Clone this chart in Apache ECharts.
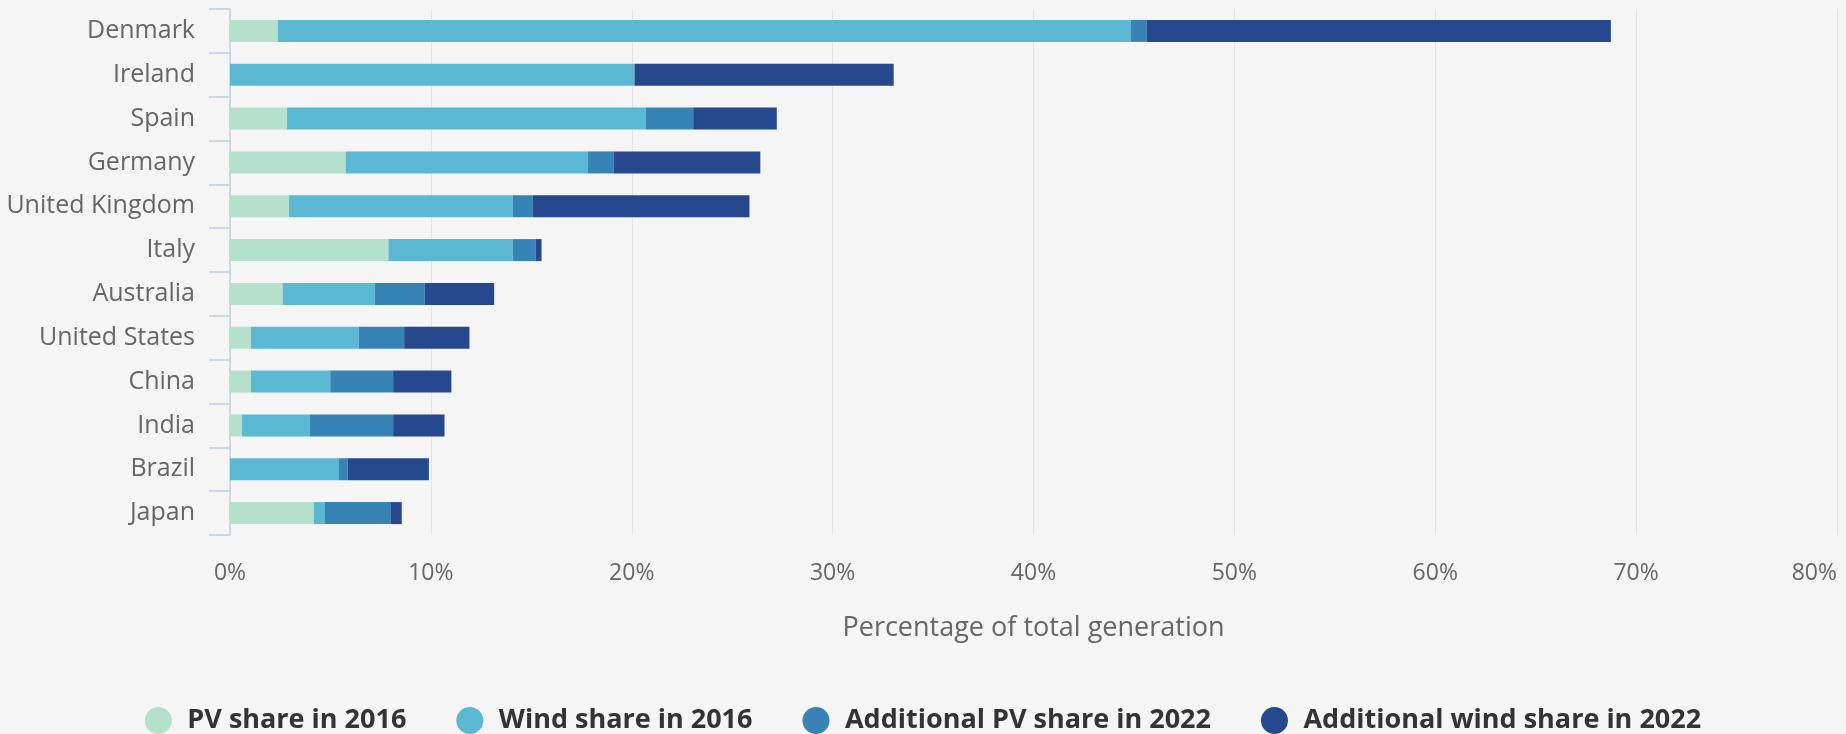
<!DOCTYPE html>
<html>
<head>
<meta charset="utf-8">
<script src="https://cdn.jsdelivr.net/npm/echarts@6/dist/echarts.min.js"></script>
<style>
    html, body { margin: 0; padding: 0; background: #f5f5f5; }
    #chart { width: 1846px; height: 734px; }
</style>
</head>
<body>
<div id="chart"></div>
<script>
// countries, top to bottom
const countries = ["Denmark", "Ireland", "Spain", "Germany", "United Kingdom", "Italy",
    "Australia", "United States", "China", "India", "Brazil", "Japan"];

// shares of total generation, %
const pv2016 = [2.38, 0, 2.84, 5.76, 2.94, 7.89, 2.62, 1.04, 1.04, 0.6, 0, 4.18];
const wind2016 = [42.46, 20.14, 17.86, 12.04, 11.14, 6.19, 4.59, 5.37, 3.95, 3.36, 5.42, 0.55];
const addPv2022 = [0.8, 0, 2.36, 1.31, 1.0, 1.14, 2.49, 2.26, 3.13, 4.16, 0.44, 3.28];
const addWind2022 = [23.1, 12.9, 4.16, 7.29, 10.78, 0.29, 3.45, 3.25, 2.9, 2.56, 4.04, 0.54];

const seriesNames = ["PV share in 2016", "Wind share in 2016", "Additional PV share in 2022", "Additional wind share in 2022"];
const colors = ["#b5e0cc", "#5bb8d2", "#3783b5", "#26488f"];

const chart = echarts.init(document.getElementById("chart"));
const font = "'Open Sans', sans-serif";

function bar(name, data, color) {
    return {
        name: name,
        type: "bar",
        stack: "total",
        data: data,
        barWidth: 22,
        itemStyle: { color: color },
        emphasis: { disabled: true }
    };
}

let option = {
    backgroundColor: "#f5f5f5",
    animation: false,
    color: colors,
    grid: {
        left: 230,
        right: 9,
        top: 9,
        bottom: 199,
        containLabel: false
    },
    legend: {
        left: "center",
        top: 702,
        icon: "circle",
        itemWidth: 48,
        itemHeight: 27,
        itemGap: 50,
        data: seriesNames,
        textStyle: {
            fontFamily: font,
            fontSize: 27,
            fontWeight: "bold",
            color: "#333"
        }
    },
    xAxis: {
        type: "value",
        min: 0,
        max: 80,
        interval: 10,
        name: "Percentage of total generation",
        nameLocation: "middle",
        nameGap: 80,
        nameTextStyle: {
            fontFamily: font,
            fontSize: 27,
            color: "#666"
        },
        axisLine: { show: false },
        axisTick: { show: false },
        axisLabel: {
            margin: 27,
            fontFamily: font,
            fontSize: 23,
            color: "#666",
            alignMaxLabel: "right",
            formatter: "{value}%"
        },
        splitLine: {
            show: true,
            lineStyle: { color: "#e3e3e3", width: 1 }
        }
    },
    yAxis: {
        type: "category",
        inverse: true,
        data: countries,
        axisLine: {
            show: true,
            lineStyle: { color: "#ccd6eb", width: 2 }
        },
        axisTick: {
            show: true,
            length: 21,
            lineStyle: { color: "#ccd6eb", width: 2 }
        },
        axisLabel: {
            margin: 35,
            fontFamily: font,
            fontSize: 25,
            color: "#666"
        }
    },
    series: [
        bar(seriesNames[0], pv2016, colors[0]),
        bar(seriesNames[1], wind2016, colors[1]),
        bar(seriesNames[2], addPv2022, colors[2]),
        bar(seriesNames[3], addWind2022, colors[3])
    ]
};

chart.setOption(option, true);
</script>
</body>
</html>
